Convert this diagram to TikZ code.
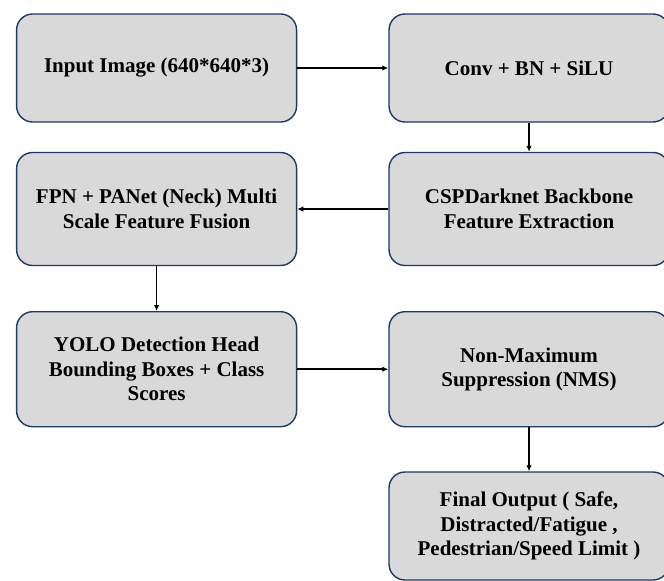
\documentclass[tikz,border=0pt]{standalone}
\usepackage{fontspec}
\setmainfont{Liberation Serif}
\usetikzlibrary{arrows.meta}
\definecolor{boxfill}{HTML}{D9D9D9}
\definecolor{boxline}{HTML}{1F3864}
\begin{document}
\begin{tikzpicture}[x=1pt,y=-1pt,
  stagebox/.style={draw=boxline, line width=1.4pt, fill=boxfill, rounded corners=16pt,
    minimum width=280pt, align=center, inner sep=0pt,
    font=\fontsize{21}{24.5}\selectfont\bfseries},
  flow/.style={draw=black, line width=1.5pt, -{Latex[length=6pt,width=5.5pt]}}]
\useasboundingbox (0,0) rectangle (664,581);
\clip (0,0) rectangle (664,581);
\node[stagebox, minimum height=108pt] (inp) at (156.6,68) {Input Image (640*640*3)};
\node[stagebox, minimum height=108pt] (conv) at (529,68) {Conv + BN + SiLU};
\node[stagebox, minimum height=113pt] (csp) at (529,209) {CSPDarknet Backbone\\Feature Extraction};
\node[stagebox, minimum height=113pt] (fpn) at (156.6,209) {FPN + PANet (Neck) Multi\\Scale Feature Fusion};
\node[stagebox, minimum height=115pt] (yolo) at (156.6,369.2) {YOLO Detection Head\\Bounding Boxes + Class\\Scores};
\node[stagebox, minimum height=115pt] (nms) at (529,369.2) {Non-Maximum\\Suppression (NMS)};
\node[stagebox, minimum height=108pt] (fin) at (529,526) {Final Output ( Safe,\\Distracted/Fatigue ,\\Pedestrian/Speed Limit )};
\draw[flow] (inp) -- (conv);
\draw[flow] (conv) -- (csp);
\draw[flow] (csp) -- (fpn);
\draw[flow] (fpn) -- (yolo);
\draw[flow] (yolo) -- (nms);
\draw[flow] (nms) -- (fin);
\end{tikzpicture}
\end{document}
